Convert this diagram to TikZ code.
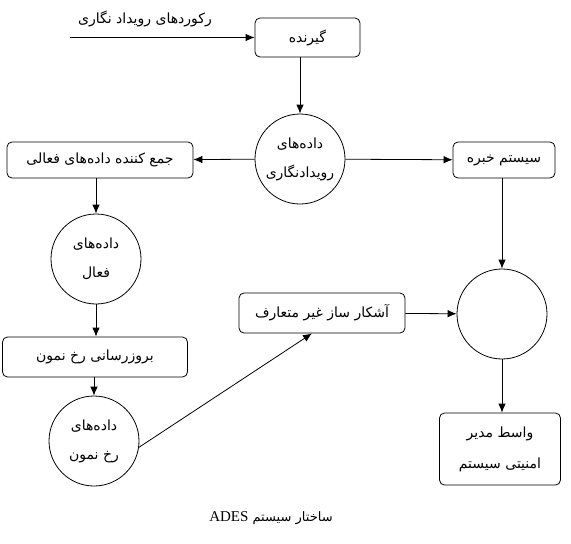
\documentclass[tikz,border=0pt]{standalone}
\usepackage{fontspec}
\TeXXeTstate=1
\setmainfont{Liberation Serif}
\newfontfamily\arabicfont[Script=Arabic]{DejaVu Sans}
\usetikzlibrary{arrows.meta}
\newcommand{\fa}[1]{{\arabicfont\beginR #1\endR}}
\begin{document}
\begin{tikzpicture}[x=1pt,y=-1pt,
  line width=0.8pt,
  every node/.style={font=\arabicfont\fontsize{14}{29}\selectfont, inner sep=0pt, align=center},
  rbox/.style={draw, rounded corners=5pt},
  dcirc/.style={draw, circle, minimum size=90pt},
  arr/.style={-{Latex[length=9pt,width=7.5pt]}}]
\useasboundingbox (0,0) rectangle (571,544);
\node[rbox, minimum width=105pt, minimum height=39pt] (rec) at (307.5,37.5) {\fa{گیرنده}};
\node[dcirc] (c1) at (300,159) {\fa{داده‌های}\\\fa{رویدادنگاری}};
\node[rbox, minimum width=186pt, minimum height=36pt] (agg) at (100,160) {\fa{جمع کننده داده‌های فعالی}};
\node[rbox, minimum width=102pt, minimum height=36pt] (exp) at (504,160) {\fa{سیستم خبره}};
\node[dcirc] (act) at (96,259) {\fa{داده‌های}\\\fa{فعال}};
\node[rbox, minimum width=185pt, minimum height=40pt] (upd) at (95,357) {\fa{بروزرسانی رخ نمون}};
\node[dcirc] (face) at (94,441) {\fa{داده‌های}\\\fa{رخ نمون}};
\node[rbox, minimum width=166pt, minimum height=40pt] (anom) at (322,313) {\fa{آشکار ساز غیر متعارف}};
\node[dcirc] (rc) at (502,314) {};
\node[rbox, minimum width=121pt, minimum height=72pt, font=\arabicfont\fontsize{14}{31}\selectfont] (mgr) at (500,449) {\fa{واسط مدیر}\\\fa{امنیتی سیستم}};
\node (lbl) at (145,19) {\fa{رکوردهای رویداد نگاری}};
\node[font=\arabicfont\fontsize{13}{15}\selectfont] (cap) at (271,518) {\fa{ساختار سیستم \beginL{\rmfamily\fontsize{15}{15}\selectfont ADES}\endL}};
\coordinate (in) at (70,37.5);
\draw[arr] (in) -- (rec);
\draw[arr] (rec.south -| c1) -- (c1);
\draw[arr] (c1) -- (agg);
\draw[arr] (c1) -- (exp);
\draw[arr] (agg.south -| act) -- (act);
\draw[arr] (act) -- (act |- upd.north);
\draw[arr] (upd.south -| face) -- (face);
\draw[arr] (face.-8) -- ([xshift=-10pt]anom.south);
\draw[arr] (anom) -- (rc);
\draw[arr] (exp.south -| rc) -- (rc);
\draw[arr] (rc) -- (rc |- mgr.north);
\end{tikzpicture}
\end{document}
